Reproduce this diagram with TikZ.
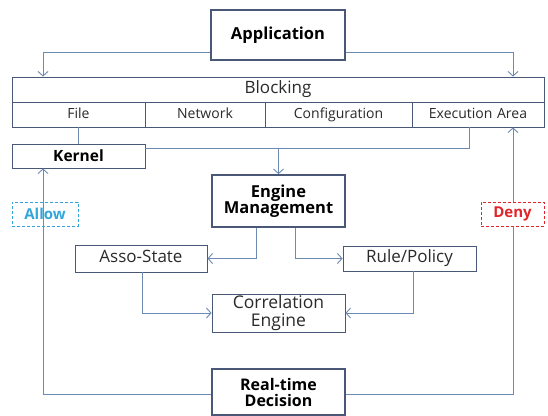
\documentclass[tikz,border=0pt]{standalone}
\usepackage{fontspec}
\setmainfont{Open Sans}
\usetikzlibrary{arrows.meta}
\definecolor{boxc}{HTML}{4A5878}
\definecolor{linec}{HTML}{6C8AB4}
\definecolor{txtc}{HTML}{2A2A2A}
\definecolor{allowc}{HTML}{34A6DA}
\definecolor{denyc}{HTML}{E0262A}
\tikzset{
  thinbox/.style={draw=boxc, line width=0.9pt, fill=white, inner sep=0pt, text=txtc},
  thickbox/.style={draw=boxc, line width=1.8pt, fill=white, inner sep=0pt, text=black},
  cell/.style={thinbox, minimum height=25pt, text height=9.5pt, text depth=2.5pt, font=\fontsize{14}{15}\selectfont},
  link/.style={draw=linec, line width=0.9pt},
  arr/.style={link, -{Straight Barb[length=4.5pt,width=10pt,line width=0.9pt]}},
  dashbox/.style={dashed, dash pattern=on 3pt off 2pt, line width=0.9pt, inner sep=0pt},
}
\begin{document}
\begin{tikzpicture}[x=1pt,y=-1pt]
\useasboundingbox (0,0) rectangle (548,415);
\fill[white] (0,0) rectangle (548,415);
\coordinate (lc) at (43,0);
\coordinate (rc) at (513,0);
% boxes
\node[thickbox, minimum width=134pt, minimum height=50pt, font=\fontsize{16.5}{17}\selectfont\bfseries] (app) at (278,35) {Application};
\node[thinbox, minimum width=532pt, minimum height=25pt, text height=11.5pt, text depth=3.5pt, font=\fontsize{17}{18}\selectfont] (blocking) at (278,89.5) {Blocking};
\node[cell, minimum width=133pt] (file) at (78.5,114.5) {File};
\node[cell, minimum width=120pt] (network) at (205,114.5) {Network};
\node[cell, minimum width=147pt] (config) at (338.5,114.5) {Configuration};
\node[cell, minimum width=132pt] (exec) at (478,114.5) {Execution\,\,Area};
\node[thinbox, minimum width=133pt, minimum height=24pt, font=\fontsize{15.5}{16}\selectfont\bfseries, text=black] (kernel) at (78.5,156) {Kernel};
\node[thickbox, minimum width=133pt, minimum height=52pt, align=center, font=\fontsize{16.5}{16.5}\selectfont\bfseries] (eng) at (278.5,201) {Engine\\Management};
\node[thinbox, minimum width=132pt, minimum height=27pt, text height=12pt, text depth=4pt, font=\fontsize{17}{18}\selectfont] (asso) at (141,258.5) {Asso-State};
\node[thinbox, minimum width=133pt, minimum height=25pt, text height=12pt, text depth=4pt, font=\fontsize{17}{18}\selectfont] (rule) at (409.5,258.5) {Rule/Policy};
\node[thinbox, minimum width=133pt, minimum height=38pt, align=center, font=\fontsize{17.5}{17.5}\selectfont] (corr) at (278.5,313) {Correlation\\Engine};
\node[thickbox, minimum width=133pt, minimum height=46pt, align=center, font=\fontsize{16}{16}\selectfont\bfseries] (rt) at (278.5,392) {Real-time\\Decision};
\node[dashbox, draw=allowc, minimum width=66pt, minimum height=24pt, text=allowc, font=\fontsize{15}{16}\selectfont\bfseries] (allow) at (45,214) {Allow};
% connectors
\draw[arr] ([yshift=-17pt]app.west) -| (blocking.north -| lc);
\draw[arr] ([yshift=-17pt]app.east) -| (blocking.north -| rc);
\draw[link] (file.south) -- (kernel.north -| file.south);
\coordinate (kx) at ([yshift=-5pt]kernel.north east);
\draw[link] (kx) -| ([xshift=-9pt]exec.south);
\draw[arr] (kx -| eng.north) -- (eng.north);
\draw[arr] ([xshift=-22.5pt]eng.south) |- (asso.east);
\draw[arr] ([xshift=17pt]eng.south) |- (rule.west);
\draw[arr] ([xshift=1pt]asso.south) |- (corr.west);
\draw[arr] ([xshift=3.5pt]rule.south) |- (corr.east);
\draw[arr] ([yshift=-2pt]rt.west) -| (kernel.south -| lc);
\draw[arr] ([yshift=-2pt]rt.east) -| (exec.south -| rc);
\node[dashbox, draw=denyc, fill=white, minimum width=63pt, minimum height=24pt, text=denyc, font=\fontsize{15}{16}\selectfont\bfseries] (deny) at (512.5,214) {Deny};
\end{tikzpicture}
\end{document}
